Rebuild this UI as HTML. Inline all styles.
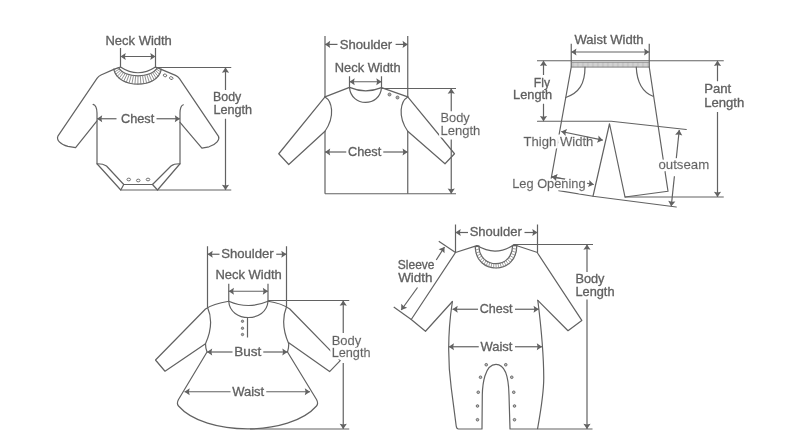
<!DOCTYPE html>
<html><head><meta charset="utf-8"><title>Size guide</title>
<style>
html,body{margin:0;padding:0;background:#fff;}
body{width:800px;height:448px;overflow:hidden;}
svg{display:block;filter:grayscale(1);font-family:"Liberation Sans","DejaVu Sans",sans-serif;}
</style></head><body>
<svg width="800" height="448" viewBox="0 0 800 448">
<defs><filter id="halo" x="-10%" y="-40%" width="120%" height="180%">
<feMorphology in="SourceAlpha" operator="dilate" radius="1.6" result="d"/>
<feGaussianBlur in="d" stdDeviation="0.6" result="b"/>
<feFlood flood-color="#fff"/><feComposite in2="b" operator="in" result="h"/>
<feMerge><feMergeNode in="h"/><feMergeNode in="h"/><feMergeNode in="SourceGraphic"/></feMerge>
</filter></defs>
<rect width="800" height="448" fill="#fff"/>
<text x="105.50" y="45" font-size="12.4" textLength="66.30" lengthAdjust="spacingAndGlyphs" fill="#606060" stroke="#606060" stroke-width="0.3">Neck Width</text>
<line x1="120.5" y1="48" x2="120.5" y2="67" stroke="#626262" stroke-width="1.2"/>
<line x1="155.5" y1="48" x2="155.5" y2="67" stroke="#626262" stroke-width="1.2"/>
<line x1="120.5" y1="56.5" x2="155.5" y2="56.5" stroke="#626262" stroke-width="1.2"/>
<polygon points="120.50,56.50 125.70,52.90 124.90,56.50 125.70,60.10" fill="#626262"/>
<polygon points="155.50,56.50 150.30,60.10 151.10,56.50 150.30,52.90" fill="#626262"/>
<path d="M120.5,67 Q138,78.5 155.5,67" stroke="#626262" stroke-width="1.2" fill="none" stroke-linejoin="round" stroke-linecap="round" />
<path d="M118.6,67.6 C124,78.5 152,78.5 157.4,67.6" stroke="#626262" stroke-width="1.2" fill="none" stroke-linejoin="round" stroke-linecap="round" />
<path d="M113.75,69.4 C118,89 158,89 161.25,69.4" stroke="#626262" stroke-width="1.2" fill="none" stroke-linejoin="round" stroke-linecap="round" />
<path d="M118.60,67.60L113.75,69.40M119.47,69.02L114.54,71.95M120.60,70.30L115.74,74.26M121.96,71.45L117.30,76.32M123.52,72.46L119.18,78.15M125.25,73.34L121.34,79.73M127.14,74.09L123.73,81.06M129.16,74.69L126.33,82.16M131.28,75.17L129.08,83.01M133.48,75.50L131.95,83.61M135.73,75.71L134.90,83.98M138.00,75.78L137.88,84.10M140.27,75.71L140.85,83.98M142.52,75.50L143.77,83.61M144.72,75.17L146.61,83.01M146.84,74.69L149.32,82.16M148.86,74.09L151.86,81.06M150.75,73.34L154.19,79.73M152.48,72.46L156.27,78.15M154.04,71.45L158.05,76.32M155.40,70.30L159.51,74.26M156.53,69.02L160.59,71.95M157.40,67.60L161.25,69.40" stroke="#777" stroke-width="0.8" fill="none" stroke-linejoin="round" stroke-linecap="round" />
<path d="M120.5,67 L113.75,69.4 M155.5,67 L161.25,69.4" stroke="#626262" stroke-width="1.2" fill="none" stroke-linejoin="round" stroke-linecap="round" />
<path d="M113.75,69.4 L101,75 Q98.6,76 97,78.3 L57.9,136.2 C56.3,139.5 60,144.5 68,146.3 L75.6,147.6 L97,120.8" stroke="#626262" stroke-width="1.2" fill="none" stroke-linejoin="round" stroke-linecap="round" />
<path d="M161.25,69.4 L175.5,75.4 Q178,76.4 179.5,78.6 L218.5,136.3 C220,139.5 216.5,144.5 209,146.8 L201.9,148.2 L180,122.3" stroke="#626262" stroke-width="1.2" fill="none" stroke-linejoin="round" stroke-linecap="round" />
<path d="M93.1,104.4 Q96.9,105.5 97,113 L97,163.75 L120.75,190 L157.5,190 L180,163.75 L180,113 Q180.1,106 183.3,104.8" stroke="#626262" stroke-width="1.2" fill="none" stroke-linejoin="round" stroke-linecap="round" />
<path d="M97,163.75 Q103,163.6 106.5,166 L123.75,184.5 L152.5,184.5 L171,166 Q174,163.6 180,163.75" stroke="#626262" stroke-width="1.2" fill="none" stroke-linejoin="round" stroke-linecap="round" />
<path d="M123.75,184.5 L120.75,190 M152.5,184.5 L157.5,190" stroke="#626262" stroke-width="1.2" fill="none" stroke-linejoin="round" stroke-linecap="round" />
<ellipse cx="128.75" cy="179.5" rx="1.8" ry="1.35" transform="rotate(0 128.75 179.5)" fill="none" stroke="#626262" stroke-width="0.9"/>
<ellipse cx="138.25" cy="180.5" rx="1.8" ry="1.35" transform="rotate(0 138.25 180.5)" fill="none" stroke="#626262" stroke-width="0.9"/>
<ellipse cx="148" cy="179.5" rx="1.8" ry="1.35" transform="rotate(0 148 179.5)" fill="none" stroke="#626262" stroke-width="0.9"/>
<ellipse cx="165" cy="75.4" rx="1.8" ry="1.3" transform="rotate(20 165 75.4)" fill="none" stroke="#626262" stroke-width="0.9"/>
<ellipse cx="171.25" cy="78.1" rx="1.8" ry="1.3" transform="rotate(20 171.25 78.1)" fill="none" stroke="#626262" stroke-width="0.9"/>
<line x1="97" y1="118.75" x2="116.5" y2="118.75" stroke="#626262" stroke-width="1.2"/>
<line x1="156.5" y1="118.75" x2="180" y2="118.75" stroke="#626262" stroke-width="1.2"/>
<polygon points="97.00,118.75 102.20,115.15 101.40,118.75 102.20,122.35" fill="#626262"/>
<polygon points="180.00,118.75 174.80,122.35 175.60,118.75 174.80,115.15" fill="#626262"/>
<text x="120.95" y="123" font-size="12.4" textLength="33.30" lengthAdjust="spacingAndGlyphs" fill="#606060" stroke="#606060" stroke-width="0.3">Chest</text>
<line x1="155.5" y1="67.5" x2="231.25" y2="67.5" stroke="#626262" stroke-width="1.2"/>
<line x1="157.5" y1="190" x2="231.25" y2="190" stroke="#626262" stroke-width="1.2"/>
<line x1="225.5" y1="67.5" x2="225.5" y2="90" stroke="#626262" stroke-width="1.2"/>
<line x1="225.5" y1="118.75" x2="225.5" y2="190" stroke="#626262" stroke-width="1.2"/>
<polygon points="225.50,67.50 229.10,72.70 225.50,71.90 221.90,72.70" fill="#626262"/>
<polygon points="225.50,190.00 221.90,184.80 225.50,185.60 229.10,184.80" fill="#626262"/>
<text x="213.00" y="100.75" font-size="12.4" textLength="28.20" lengthAdjust="spacingAndGlyphs" fill="#606060" stroke="#606060" stroke-width="0.3">Body</text>
<text x="213.40" y="113.6" font-size="12.4" textLength="38.60" lengthAdjust="spacingAndGlyphs" fill="#606060" stroke="#606060" stroke-width="0.3">Length</text>
<line x1="325" y1="36" x2="325" y2="96.9" stroke="#626262" stroke-width="1.2"/>
<line x1="407.75" y1="36" x2="407.75" y2="96.9" stroke="#626262" stroke-width="1.2"/>
<line x1="325" y1="131.25" x2="325" y2="193.75" stroke="#626262" stroke-width="1.2"/>
<line x1="407.75" y1="131.25" x2="407.75" y2="193.75" stroke="#626262" stroke-width="1.2"/>
<line x1="325" y1="44.4" x2="337.5" y2="44.4" stroke="#626262" stroke-width="1.2"/>
<line x1="395.6" y1="44.4" x2="407.75" y2="44.4" stroke="#626262" stroke-width="1.2"/>
<polygon points="325.00,44.40 330.20,40.80 329.40,44.40 330.20,48.00" fill="#626262"/>
<polygon points="407.75,44.40 402.55,48.00 403.35,44.40 402.55,40.80" fill="#626262"/>
<text x="339.80" y="49" font-size="12.4" textLength="52.45" lengthAdjust="spacingAndGlyphs" fill="#606060" stroke="#606060" stroke-width="0.3">Shoulder</text>
<text x="334.80" y="72" font-size="12.4" textLength="65.80" lengthAdjust="spacingAndGlyphs" fill="#606060" stroke="#606060" stroke-width="0.3">Neck Width</text>
<line x1="349.5" y1="76.25" x2="349.5" y2="87.4" stroke="#626262" stroke-width="1.2"/>
<line x1="381.5" y1="76.25" x2="381.5" y2="87.6" stroke="#626262" stroke-width="1.2"/>
<line x1="349.5" y1="81.75" x2="381.5" y2="81.75" stroke="#626262" stroke-width="1.2"/>
<polygon points="349.50,81.75 354.70,78.15 353.90,81.75 354.70,85.35" fill="#626262"/>
<polygon points="381.50,81.75 376.30,85.35 377.10,81.75 376.30,78.15" fill="#626262"/>
<path d="M349.5,87.4 C351,107.4 380,107.4 381.5,87.6" stroke="#626262" stroke-width="1.2" fill="none" stroke-linejoin="round" stroke-linecap="round" />
<path d="M349.5,87.4 Q365.4,94.2 381.5,87.6" stroke="#626262" stroke-width="1.2" fill="none" stroke-linejoin="round" stroke-linecap="round" />
<path d="M349.5,87.4 L325,96.9 M381.5,87.6 L407.75,96.9" stroke="#626262" stroke-width="1.2" fill="none" stroke-linejoin="round" stroke-linecap="round" />
<path d="M325,96.9 C332,101 335.5,116 325,131.25" stroke="#626262" stroke-width="1.2" fill="none" stroke-linejoin="round" stroke-linecap="round" />
<path d="M407.75,96.9 C400.7,101 397.2,116 407.75,131.25" stroke="#626262" stroke-width="1.2" fill="none" stroke-linejoin="round" stroke-linecap="round" />
<path d="M325,96.9 L278.75,153.75 L288.75,164.5 L325,131.25" stroke="#626262" stroke-width="1.2" fill="none" stroke-linejoin="round" stroke-linecap="round" />
<path d="M407.75,96.9 L454.5,153.75 L445,163.75 L407.75,131.25" stroke="#626262" stroke-width="1.2" fill="none" stroke-linejoin="round" stroke-linecap="round" />
<line x1="325" y1="193.75" x2="456" y2="193.75" stroke="#626262" stroke-width="1.2"/>
<circle cx="389.5" cy="94.5" r="1.5" fill="#aaa" stroke="#626262" stroke-width="0.8"/>
<circle cx="397.5" cy="97.5" r="1.5" fill="#aaa" stroke="#626262" stroke-width="0.8"/>
<line x1="325" y1="152" x2="346.25" y2="152" stroke="#626262" stroke-width="1.2"/>
<line x1="383.25" y1="152" x2="407.75" y2="152" stroke="#626262" stroke-width="1.2"/>
<polygon points="325.00,152.00 330.20,148.40 329.40,152.00 330.20,155.60" fill="#626262"/>
<polygon points="407.75,152.00 402.55,155.60 403.35,152.00 402.55,148.40" fill="#626262"/>
<text x="347.95" y="155.5" font-size="12.4" textLength="33.30" lengthAdjust="spacingAndGlyphs" fill="#606060" stroke="#606060" stroke-width="0.3">Chest</text>
<line x1="381.5" y1="88.5" x2="456" y2="88.5" stroke="#626262" stroke-width="1.2"/>
<line x1="451.25" y1="88.5" x2="451.25" y2="111.25" stroke="#626262" stroke-width="1.2"/>
<line x1="451.25" y1="139.4" x2="451.25" y2="193.75" stroke="#626262" stroke-width="1.2"/>
<polygon points="451.25,88.50 454.85,93.70 451.25,92.90 447.65,93.70" fill="#626262"/>
<polygon points="451.25,193.75 447.65,188.55 451.25,189.35 454.85,188.55" fill="#626262"/>
<text x="440.45" y="122" font-size="12.4" textLength="29.35" lengthAdjust="spacingAndGlyphs" fill="#606060" stroke="#606060" stroke-width="0.3" filter="url(#halo)">Body</text>
<text x="440.45" y="135" font-size="12.4" textLength="39.85" lengthAdjust="spacingAndGlyphs" fill="#606060" stroke="#606060" stroke-width="0.3" filter="url(#halo)">Length</text>
<text x="574.50" y="43.8" font-size="12.4" textLength="69.10" lengthAdjust="spacingAndGlyphs" fill="#606060" stroke="#606060" stroke-width="0.3">Waist Width</text>
<line x1="571.25" y1="43.75" x2="571.25" y2="67" stroke="#626262" stroke-width="1.2"/>
<line x1="649.25" y1="43.75" x2="649.25" y2="67" stroke="#626262" stroke-width="1.2"/>
<line x1="571.25" y1="52" x2="649.25" y2="52" stroke="#626262" stroke-width="1.2"/>
<polygon points="571.25,52.00 576.45,48.40 575.65,52.00 576.45,55.60" fill="#626262"/>
<polygon points="649.25,52.00 644.05,55.60 644.85,52.00 644.05,48.40" fill="#626262"/>
<line x1="537" y1="60.75" x2="723.75" y2="60.75" stroke="#626262" stroke-width="1.2"/>
<path d="M572.40,62.6V66.8M573.65,62.6V66.8M574.90,62.6V66.8M576.15,62.6V66.8M577.40,62.6V66.8M578.65,62.6V66.8M579.90,62.6V66.8M581.15,62.6V66.8M582.40,62.6V66.8M583.65,62.6V66.8M584.90,62.6V66.8M586.15,62.6V66.8M587.40,62.6V66.8M588.65,62.6V66.8M589.90,62.6V66.8M591.15,62.6V66.8M592.40,62.6V66.8M593.65,62.6V66.8M594.90,62.6V66.8M596.15,62.6V66.8M597.40,62.6V66.8M598.65,62.6V66.8M599.90,62.6V66.8M601.15,62.6V66.8M602.40,62.6V66.8M603.65,62.6V66.8M604.90,62.6V66.8M606.15,62.6V66.8M607.40,62.6V66.8M608.65,62.6V66.8M609.90,62.6V66.8M611.15,62.6V66.8M612.40,62.6V66.8M613.65,62.6V66.8M614.90,62.6V66.8M616.15,62.6V66.8M617.40,62.6V66.8M618.65,62.6V66.8M619.90,62.6V66.8M621.15,62.6V66.8M622.40,62.6V66.8M623.65,62.6V66.8M624.90,62.6V66.8M626.15,62.6V66.8M627.40,62.6V66.8M628.65,62.6V66.8M629.90,62.6V66.8M631.15,62.6V66.8M632.40,62.6V66.8M633.65,62.6V66.8M634.90,62.6V66.8M636.15,62.6V66.8M637.40,62.6V66.8M638.65,62.6V66.8M639.90,62.6V66.8M641.15,62.6V66.8M642.40,62.6V66.8M643.65,62.6V66.8M644.90,62.6V66.8M646.15,62.6V66.8M647.40,62.6V66.8M648.65,62.6V66.8" stroke="#8a8a8a" stroke-width="0.55" fill="none" stroke-linejoin="round" stroke-linecap="round" />
<line x1="571.25" y1="62.3" x2="649.25" y2="62.3" stroke="#808080" stroke-width="0.8"/>
<line x1="571.25" y1="67.1" x2="649.25" y2="67.1" stroke="#787878" stroke-width="0.9"/>
<path d="M571.25,67 L551.1,179 M558.75,190.6 L593,196.25 L676.25,207" stroke="#626262" stroke-width="1.2" fill="none" stroke-linejoin="round" stroke-linecap="round" />
<path d="M649.25,67 L668,191.25 L625,197" stroke="#626262" stroke-width="1.2" fill="none" stroke-linejoin="round" stroke-linecap="round" />
<path d="M585,67 C585,84 579,93 565.75,97.5" stroke="#626262" stroke-width="1.2" fill="none" stroke-linejoin="round" stroke-linecap="round" />
<path d="M636.25,67 C637,83 642,92 653,96.3" stroke="#626262" stroke-width="1.2" fill="none" stroke-linejoin="round" stroke-linecap="round" />
<line x1="543.5" y1="60.75" x2="543.5" y2="75" stroke="#626262" stroke-width="1.2"/>
<line x1="543.5" y1="103.75" x2="543.5" y2="121.25" stroke="#626262" stroke-width="1.2"/>
<polygon points="543.50,60.75 547.10,65.95 543.50,65.15 539.90,65.95" fill="#626262"/>
<polygon points="543.50,121.25 539.90,116.05 543.50,116.85 547.10,116.05" fill="#626262"/>
<text x="533.80" y="87" font-size="12.4" textLength="16.20" lengthAdjust="spacingAndGlyphs" fill="#606060" stroke="#606060" stroke-width="0.3">Fly</text>
<text x="513.10" y="99.3" font-size="12.4" textLength="39.10" lengthAdjust="spacingAndGlyphs" fill="#606060" stroke="#606060" stroke-width="0.3">Length</text>
<path d="M537.5,121.25 L611.25,121.25 L686.25,129.5" stroke="#626262" stroke-width="1.2" fill="none" stroke-linejoin="round" stroke-linecap="round" />
<path d="M593,196.25 L609.5,123.75 L625,197" stroke="#626262" stroke-width="1.2" fill="none" stroke-linejoin="round" stroke-linecap="round" />
<line x1="625" y1="197" x2="723.75" y2="197" stroke="#626262" stroke-width="1.2"/>
<line x1="717.5" y1="60.75" x2="717.5" y2="81.25" stroke="#626262" stroke-width="1.2"/>
<line x1="717.5" y1="112" x2="717.5" y2="197" stroke="#626262" stroke-width="1.2"/>
<polygon points="717.50,60.75 721.10,65.95 717.50,65.15 713.90,65.95" fill="#626262"/>
<polygon points="717.50,197.00 713.90,191.80 717.50,192.60 721.10,191.80" fill="#626262"/>
<text x="704.20" y="93.4" font-size="12.4" textLength="27.05" lengthAdjust="spacingAndGlyphs" fill="#606060" stroke="#606060" stroke-width="0.3">Pant</text>
<text x="704.20" y="106.6" font-size="12.4" textLength="40.05" lengthAdjust="spacingAndGlyphs" fill="#606060" stroke="#606060" stroke-width="0.3">Length</text>
<line x1="679.25" y1="130" x2="676.25" y2="158.75" stroke="#626262" stroke-width="1.2"/>
<line x1="674.4" y1="176.25" x2="671.25" y2="206.25" stroke="#626262" stroke-width="1.2"/>
<polygon points="679.25,130.00 682.29,135.55 678.79,134.38 675.13,134.80" fill="#626262"/>
<polygon points="671.25,206.25 668.21,200.70 671.71,201.87 675.37,201.45" fill="#626262"/>
<text x="658.45" y="169.25" font-size="12.4" textLength="50.80" lengthAdjust="spacingAndGlyphs" fill="#606060" stroke="#606060" stroke-width="0.3" filter="url(#halo)">outseam</text>
<text x="523.60" y="146" font-size="12.4" textLength="69.80" lengthAdjust="spacingAndGlyphs" fill="#606060" stroke="#606060" stroke-width="0.3" filter="url(#halo)">Thigh Width</text>
<line x1="561.25" y1="131.5" x2="602.8" y2="140.2" stroke="#626262" stroke-width="1.2"/>
<polygon points="561.25,131.50 567.08,129.04 565.56,132.40 565.60,136.09" fill="#626262"/>
<polygon points="602.80,140.20 596.97,142.66 598.49,139.30 598.45,135.61" fill="#626262"/>
<line x1="551.8" y1="176.8" x2="593.75" y2="184.5" stroke="#626262" stroke-width="1.2"/>
<polygon points="551.80,176.80 557.56,174.20 556.13,177.59 556.26,181.28" fill="#626262"/>
<polygon points="593.75,184.50 587.99,187.10 589.42,183.71 589.29,180.02" fill="#626262"/>
<text x="512.20" y="188.3" font-size="12.4" textLength="73.40" lengthAdjust="spacingAndGlyphs" fill="#606060" stroke="#606060" stroke-width="0.3" filter="url(#halo)">Leg Opening</text>
<polygon points="551.80,176.80 557.56,174.20 556.13,177.59 556.26,181.28" fill="#626262"/>
<line x1="551.8" y1="176.8" x2="565" y2="179.2" stroke="#626262" stroke-width="1.2"/>
<line x1="207.5" y1="246.25" x2="207.5" y2="307.3" stroke="#626262" stroke-width="1.2"/>
<line x1="286.5" y1="246.25" x2="286.5" y2="306.8" stroke="#626262" stroke-width="1.2"/>
<line x1="207.5" y1="254.25" x2="219.5" y2="254.25" stroke="#626262" stroke-width="1.2"/>
<line x1="276.25" y1="254.25" x2="286.5" y2="254.25" stroke="#626262" stroke-width="1.2"/>
<polygon points="207.50,254.25 212.70,250.65 211.90,254.25 212.70,257.85" fill="#626262"/>
<polygon points="286.50,254.25 281.30,257.85 282.10,254.25 281.30,250.65" fill="#626262"/>
<text x="221.20" y="258.25" font-size="12.4" textLength="52.55" lengthAdjust="spacingAndGlyphs" fill="#606060" stroke="#606060" stroke-width="0.3">Shoulder</text>
<text x="215.45" y="278.75" font-size="12.4" textLength="66.30" lengthAdjust="spacingAndGlyphs" fill="#606060" stroke="#606060" stroke-width="0.3">Neck Width</text>
<line x1="228.75" y1="283.75" x2="228.75" y2="301.25" stroke="#626262" stroke-width="1.2"/>
<line x1="268" y1="283.75" x2="268" y2="301.25" stroke="#626262" stroke-width="1.2"/>
<line x1="228.75" y1="291.25" x2="268" y2="291.25" stroke="#626262" stroke-width="1.2"/>
<polygon points="228.75,291.25 233.95,287.65 233.15,291.25 233.95,294.85" fill="#626262"/>
<polygon points="268.00,291.25 262.80,294.85 263.60,291.25 262.80,287.65" fill="#626262"/>
<path d="M228.75,301.25 C230,322.9 266.5,322.9 268,301.25" stroke="#626262" stroke-width="1.2" fill="none" stroke-linejoin="round" stroke-linecap="round" />
<path d="M228.75,301.25 Q248.4,309.75 268,301.25" stroke="#626262" stroke-width="1.2" fill="none" stroke-linejoin="round" stroke-linecap="round" />
<path d="M207.5,307.3 C210,313 213.5,326 205.5,343.75 Q205.5,348 207,352 L178.5,399.5 Q176.3,403.5 178.5,406 C205,436.5 290,436.5 316.5,406 Q318.7,403.5 316.5,399.5 L287.5,352 Q288.8,348 288.75,343.75 C281,326 284,313 286.5,306.8" stroke="#626262" stroke-width="1.2" fill="none" stroke-linejoin="round" stroke-linecap="round" />
<path d="M228.75,301.25 C219,302.8 211.5,304.8 205.5,309 L155.5,360 L165,371.25 L205.5,343.75" stroke="#626262" stroke-width="1.2" fill="none" stroke-linejoin="round" stroke-linecap="round" />
<path d="M268,301.25 C277.5,302.6 283.5,304.6 289.8,309 L340.2,360.6 L329.6,371.6 L288.75,342.8" stroke="#626262" stroke-width="1.2" fill="none" stroke-linejoin="round" stroke-linecap="round" />
<line x1="247.5" y1="317.5" x2="247.5" y2="337.5" stroke="#626262" stroke-width="1.2"/>
<circle cx="242.5" cy="321.25" r="1.2" fill="#aaa" stroke="#626262" stroke-width="0.8"/>
<circle cx="242.5" cy="328.25" r="1.2" fill="#aaa" stroke="#626262" stroke-width="0.8"/>
<circle cx="242.5" cy="334.5" r="1.2" fill="#aaa" stroke="#626262" stroke-width="0.8"/>
<line x1="207" y1="352" x2="232.5" y2="352" stroke="#626262" stroke-width="1.2"/>
<line x1="263.25" y1="352" x2="287.5" y2="352" stroke="#626262" stroke-width="1.2"/>
<polygon points="207.00,352.00 212.20,348.40 211.40,352.00 212.20,355.60" fill="#626262"/>
<polygon points="287.50,352.00 282.30,355.60 283.10,352.00 282.30,348.40" fill="#626262"/>
<text x="234.20" y="355.5" font-size="12.4" textLength="27.05" lengthAdjust="spacingAndGlyphs" fill="#606060" stroke="#606060" stroke-width="0.3">Bust</text>
<line x1="184.5" y1="391.75" x2="230.5" y2="391.75" stroke="#626262" stroke-width="1.2"/>
<line x1="266.25" y1="391.75" x2="310" y2="391.75" stroke="#626262" stroke-width="1.2"/>
<polygon points="184.50,391.75 189.70,388.15 188.90,391.75 189.70,395.35" fill="#626262"/>
<polygon points="310.00,391.75 304.80,395.35 305.60,391.75 304.80,388.15" fill="#626262"/>
<text x="232.20" y="395.5" font-size="12.4" textLength="32.05" lengthAdjust="spacingAndGlyphs" fill="#606060" stroke="#606060" stroke-width="0.3">Waist</text>
<line x1="268" y1="300.5" x2="349.25" y2="300.5" stroke="#626262" stroke-width="1.2"/>
<line x1="250" y1="429" x2="349.25" y2="429" stroke="#626262" stroke-width="1.2"/>
<line x1="343.25" y1="300.5" x2="343.25" y2="333" stroke="#626262" stroke-width="1.2"/>
<line x1="343.25" y1="363" x2="343.25" y2="429" stroke="#626262" stroke-width="1.2"/>
<polygon points="343.25,300.50 346.85,305.70 343.25,304.90 339.65,305.70" fill="#626262"/>
<polygon points="343.25,429.00 339.65,423.80 343.25,424.60 346.85,423.80" fill="#626262"/>
<text x="331.70" y="344.5" font-size="12.4" textLength="29.55" lengthAdjust="spacingAndGlyphs" fill="#606060" stroke="#606060" stroke-width="0.3" filter="url(#halo)">Body</text>
<text x="331.70" y="357" font-size="12.4" textLength="38.80" lengthAdjust="spacingAndGlyphs" fill="#606060" stroke="#606060" stroke-width="0.3" filter="url(#halo)">Length</text>
<line x1="455.5" y1="224.5" x2="455.5" y2="252.5" stroke="#626262" stroke-width="1.2"/>
<line x1="537.5" y1="224.5" x2="537.5" y2="252.5" stroke="#626262" stroke-width="1.2"/>
<line x1="455.5" y1="232.5" x2="468" y2="232.5" stroke="#626262" stroke-width="1.2"/>
<line x1="524.5" y1="232.5" x2="537.5" y2="232.5" stroke="#626262" stroke-width="1.2"/>
<polygon points="455.50,232.50 460.70,228.90 459.90,232.50 460.70,236.10" fill="#626262"/>
<polygon points="537.50,232.50 532.30,236.10 533.10,232.50 532.30,228.90" fill="#626262"/>
<text x="469.70" y="236.25" font-size="12.4" textLength="52.05" lengthAdjust="spacingAndGlyphs" fill="#606060" stroke="#606060" stroke-width="0.3">Shoulder</text>
<line x1="514" y1="244.5" x2="593" y2="244.5" stroke="#626262" stroke-width="1.2"/>
<line x1="537.5" y1="429" x2="592.5" y2="429" stroke="#626262" stroke-width="1.2"/>
<line x1="587" y1="244.5" x2="587" y2="272" stroke="#626262" stroke-width="1.2"/>
<line x1="587" y1="299.4" x2="587" y2="429" stroke="#626262" stroke-width="1.2"/>
<polygon points="587.00,244.50 590.60,249.70 587.00,248.90 583.40,249.70" fill="#626262"/>
<polygon points="587.00,429.00 583.40,423.80 587.00,424.60 590.60,423.80" fill="#626262"/>
<text x="575.45" y="282.5" font-size="12.4" textLength="29.05" lengthAdjust="spacingAndGlyphs" fill="#606060" stroke="#606060" stroke-width="0.3">Body</text>
<text x="575.45" y="295.5" font-size="12.4" textLength="39.05" lengthAdjust="spacingAndGlyphs" fill="#606060" stroke="#606060" stroke-width="0.3">Length</text>
<path d="M476.9,245.6 Q496,257 513.75,244.75" stroke="#626262" stroke-width="1.2" fill="none" stroke-linejoin="round" stroke-linecap="round" />
<path d="M478.9,246.2 C479.5,269.6 512.5,269.6 512.6,245.6" stroke="#626262" stroke-width="1.2" fill="none" stroke-linejoin="round" stroke-linecap="round" />
<path d="M475.2,246.6 C475.5,275.3 517,275.3 516.8,245.6" stroke="#626262" stroke-width="1.2" fill="none" stroke-linejoin="round" stroke-linecap="round" />
<path d="M478.90,246.20L475.20,246.60M479.14,249.00L475.45,250.04M479.69,251.56L476.09,253.18M480.52,253.88L477.08,256.02M481.60,255.95L478.40,258.55M482.90,257.77L480.00,260.79M484.40,259.35L481.85,262.73M486.07,260.69L483.92,264.36M487.88,261.78L486.16,265.70M489.80,262.62L488.55,266.73M491.80,263.22L491.04,267.45M493.86,263.57L493.60,267.88M495.94,263.68L496.19,268.00M498.02,263.53L498.78,267.82M500.06,263.14L501.33,267.33M502.05,262.51L503.80,266.54M503.95,261.62L506.17,265.44M505.74,260.49L508.39,264.03M507.38,259.11L510.43,262.32M508.84,257.48L512.24,260.30M510.11,255.60L513.81,257.98M511.15,253.48L515.08,255.35M511.93,251.10L516.03,252.41M512.42,248.48L516.61,249.16M512.60,245.60L516.80,245.60" stroke="#808080" stroke-width="0.75" fill="none" stroke-linejoin="round" stroke-linecap="round" />
<path d="M475.2,246.6 L478.9,246.2 M512.6,245.6 L516.8,245.6" stroke="#626262" stroke-width="1.2" fill="none" stroke-linejoin="round" stroke-linecap="round" />
<path d="M476.9,245.6 L455.5,252.5 M514,244.75 L537.5,252.5" stroke="#626262" stroke-width="1.2" fill="none" stroke-linejoin="round" stroke-linecap="round" />
<path d="M455.5,252.5 L411.25,319.5 L425.5,331.25 L452.4,301.5" stroke="#626262" stroke-width="1.2" fill="none" stroke-linejoin="round" stroke-linecap="round" />
<path d="M537.5,253 L581.8,320.4 L568,330.75 L537.8,300.3" stroke="#626262" stroke-width="1.2" fill="none" stroke-linejoin="round" stroke-linecap="round" />
<path d="M452.4,301.5 C448,330 447.5,360 451.25,388 C453,401 454.5,413 456.2,426 Q456.6,429 458.5,429 L482,429 L482.3,395 C482.5,385 484.5,364.4 496,364.4 C507.5,364.4 508.8,385 509,395 L510,429 L537.5,429 C540,415 543.75,395 543.75,378 C543.7,362 541.5,330 537.8,300.3" stroke="#626262" stroke-width="1.2" fill="none" stroke-linejoin="round" stroke-linecap="round" />
<circle cx="486.25" cy="364.75" r="1.3" fill="#bbb" stroke="#626262" stroke-width="0.9"/>
<circle cx="505.75" cy="364.75" r="1.3" fill="#bbb" stroke="#626262" stroke-width="0.9"/>
<circle cx="480.5" cy="377.25" r="1.3" fill="#bbb" stroke="#626262" stroke-width="0.9"/>
<circle cx="511.75" cy="377.25" r="1.3" fill="#bbb" stroke="#626262" stroke-width="0.9"/>
<circle cx="478.25" cy="392.25" r="1.3" fill="#bbb" stroke="#626262" stroke-width="0.9"/>
<circle cx="513.75" cy="392.25" r="1.3" fill="#bbb" stroke="#626262" stroke-width="0.9"/>
<circle cx="477.5" cy="406" r="1.3" fill="#bbb" stroke="#626262" stroke-width="0.9"/>
<circle cx="514.5" cy="406" r="1.3" fill="#bbb" stroke="#626262" stroke-width="0.9"/>
<circle cx="477.5" cy="419.75" r="1.3" fill="#bbb" stroke="#626262" stroke-width="0.9"/>
<circle cx="514.5" cy="419.75" r="1.3" fill="#bbb" stroke="#626262" stroke-width="0.9"/>
<line x1="438.75" y1="241.25" x2="455.5" y2="252.5" stroke="#626262" stroke-width="1.2"/>
<line x1="393.75" y1="307" x2="411.25" y2="319.5" stroke="#626262" stroke-width="1.2"/>
<line x1="444.5" y1="247" x2="436.25" y2="260" stroke="#626262" stroke-width="1.2"/>
<line x1="417.5" y1="287.5" x2="401.25" y2="310" stroke="#626262" stroke-width="1.2"/>
<polygon points="444.50,247.00 444.52,253.32 442.01,250.63 438.59,249.25" fill="#626262"/>
<polygon points="401.25,310.00 401.23,303.68 403.74,306.37 407.16,307.75" fill="#626262"/>
<text x="397.80" y="268.75" font-size="12.4" textLength="36.70" lengthAdjust="spacingAndGlyphs" fill="#606060" stroke="#606060" stroke-width="0.3">Sleeve</text>
<text x="398.20" y="281.75" font-size="12.4" textLength="34.20" lengthAdjust="spacingAndGlyphs" fill="#606060" stroke="#606060" stroke-width="0.3">Width</text>
<line x1="452.5" y1="309.25" x2="478" y2="309.25" stroke="#626262" stroke-width="1.2"/>
<line x1="515" y1="309.25" x2="538.75" y2="309.25" stroke="#626262" stroke-width="1.2"/>
<polygon points="452.50,309.25 457.70,305.65 456.90,309.25 457.70,312.85" fill="#626262"/>
<polygon points="538.75,309.25 533.55,312.85 534.35,309.25 533.55,305.65" fill="#626262"/>
<text x="479.70" y="313" font-size="12.4" textLength="32.80" lengthAdjust="spacingAndGlyphs" fill="#606060" stroke="#606060" stroke-width="0.3">Chest</text>
<line x1="448.75" y1="346.75" x2="478.75" y2="346.75" stroke="#626262" stroke-width="1.2"/>
<line x1="515" y1="346.75" x2="542" y2="346.75" stroke="#626262" stroke-width="1.2"/>
<polygon points="448.75,346.75 453.95,343.15 453.15,346.75 453.95,350.35" fill="#626262"/>
<polygon points="542.00,346.75 536.80,350.35 537.60,346.75 536.80,343.15" fill="#626262"/>
<text x="480.45" y="350.5" font-size="12.4" textLength="32.05" lengthAdjust="spacingAndGlyphs" fill="#606060" stroke="#606060" stroke-width="0.3">Waist</text>
</svg>
</body></html>
